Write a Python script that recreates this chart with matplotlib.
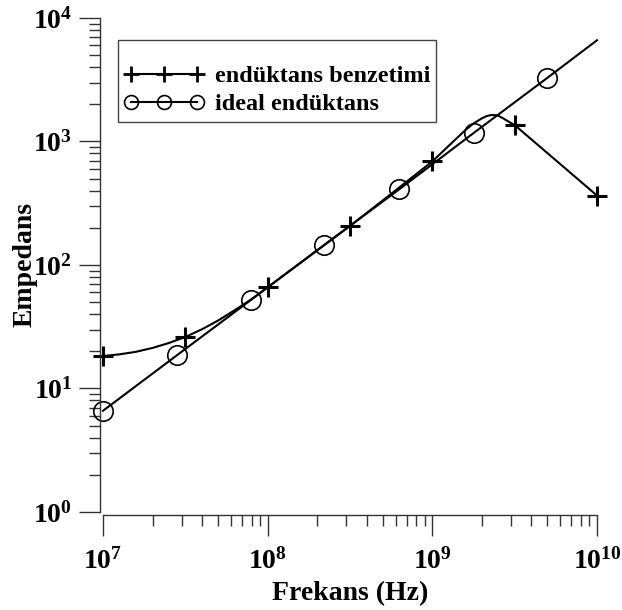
#!/usr/bin/env python3
"""Empedans vs frekans: endüktans benzetimi ile ideal endüktans karşılaştırması."""

import matplotlib

matplotlib.use("Agg")
import matplotlib.pyplot as plt
import numpy as np
from matplotlib.lines import Line2D
from matplotlib.ticker import FuncFormatter, LogLocator, NullFormatter

plt.rcParams["font.family"] = ["Liberation Serif", "DejaVu Serif"]
plt.rcParams["font.weight"] = "bold"
plt.rcParams["mathtext.fontset"] = "custom"
plt.rcParams["mathtext.rm"] = "Liberation Serif:bold"
plt.rcParams["mathtext.bf"] = "Liberation Serif:bold"
plt.rcParams["mathtext.it"] = "Liberation Serif:bold:italic"

# endüktans benzetimi (simulated) - curve
sim_freq = [1e7, 1.26e7, 1.58e7, 2e7, 2.5e7, 3.16e7, 4e7, 5e7, 6.3e7, 8e7, 1e8,
            1.78e8, 3.16e8, 5.6e8, 1e9, 1.33e9, 1.58e9, 1.78e9, 2.0e9, 2.15e9,
            2.29e9, 2.5e9, 2.69e9, 2.9e9, 3.16e9, 1e10]
sim_z = [18.3, 18.9, 19.8, 21.3, 23.3, 26.1, 30.2, 35.5, 43.0, 53.0, 66.0,
         117.0, 207.0, 375.0, 690.0, 990.0, 1230.0, 1400.0, 1540.0, 1610.0,
         1640.0, 1625.0, 1540.0, 1450.0, 1360.0, 365.0]
# endüktans benzetimi - marker points
sim_mark_freq = [1e7, 3.16e7, 1e8, 3.16e8, 1e9, 3.16e9, 1e10]
sim_mark_z = [18.3, 26.1, 66.0, 207.0, 690.0, 1360.0, 365.0]

# ideal endüktans - line and markers
ideal_freq = [1e7, 2.8e7, 7.9e7, 2.2e8, 6.3e8, 1.78e9, 5e9, 1e10]
ideal_z = [6.6, 18.5, 52.0, 145.0, 410.0, 1170.0, 3280.0, 6600.0]
ideal_mark_freq = [1e7, 2.8e7, 7.9e7, 2.2e8, 6.3e8, 1.78e9, 5e9]
ideal_mark_z = [6.6, 18.5, 52.0, 145.0, 410.0, 1170.0, 3280.0]

LABELS = ["endüktans benzetimi", "ideal endüktans"]


def main() -> None:
    fig = plt.figure(figsize=(6.22, 6.10), dpi=100)
    ax = fig.add_axes([0.1656, 0.1607, 0.7942, 0.8098])

    lw = 1.5
    ax.plot(sim_freq, sim_z, color="black", linewidth=lw, clip_on=False)
    ax.plot(sim_mark_freq, sim_mark_z, linestyle="none", marker="+", markersize=15,
            markeredgewidth=2.2, color="black", clip_on=False)
    ax.plot(ideal_freq, ideal_z, color="black", linewidth=lw, clip_on=False)
    ax.plot(ideal_mark_freq, ideal_mark_z, linestyle="none", marker="o", markersize=14,
            markerfacecolor="none", markeredgewidth=1.2, color="black", clip_on=False)

    ax.set_xscale("log")
    ax.set_yscale("log")
    ax.set_xlim(1e7, 1e10)
    ax.set_ylim(1e0, 1e4)

    for side in ("top", "right"):
        ax.spines[side].set_visible(False)
    ax.spines["left"].set_position(("outward", 2))
    ax.spines["bottom"].set_position(("outward", 2))
    for side in ("left", "bottom"):
        ax.spines[side].set_color("#333333")
        ax.spines[side].set_linewidth(1.0)

    fmt = FuncFormatter(lambda v, p: r"$\mathbf{10^{%d}}$" % int(round(np.log10(v))))
    for axis in (ax.xaxis, ax.yaxis):
        axis.set_major_locator(LogLocator(base=10, numticks=10))
        axis.set_minor_locator(LogLocator(base=10, subs=range(2, 10), numticks=40))
        axis.set_major_formatter(fmt)
        axis.set_minor_formatter(NullFormatter())

    ax.tick_params(which="major", direction="out", length=15, width=1.0, color="#333333",
                   labelsize=20)
    ax.tick_params(which="minor", direction="out", length=8, width=1.0, color="#333333")
    ax.tick_params(axis="x", which="major", pad=9)
    ax.tick_params(axis="y", which="major", pad=5)

    ax.set_xlabel("Frekans (Hz)", fontsize=20, fontweight="bold", labelpad=5)
    ax.set_ylabel("Empedans", fontsize=20, fontweight="bold", labelpad=-3)

    handles = [
        Line2D([0], [0], color="black", linewidth=lw, marker="+", markersize=12,
               markeredgewidth=2.0),
        Line2D([0], [0], color="black", linewidth=lw, marker="o", markersize=10,
               markerfacecolor="none", markeredgewidth=1.2),
    ]
    # blank title gives the extra space above the entries, as in the original box
    leg = ax.legend(handles, LABELS, loc="upper left", bbox_to_anchor=(0.03, 0.955),
                    borderaxespad=0, numpoints=3, handlelength=3.3, handletextpad=0.45,
                    fancybox=False, framealpha=1, edgecolor="#444444",
                    prop={"size": 17.5, "weight": "bold"}, borderpad=0.25,
                    labelspacing=0.25, title=" ", title_fontsize=10)
    leg.get_frame().set_linewidth(1.0)

    fig.savefig("out.png", dpi=100)
    plt.close(fig)


if __name__ == "__main__":
    main()
